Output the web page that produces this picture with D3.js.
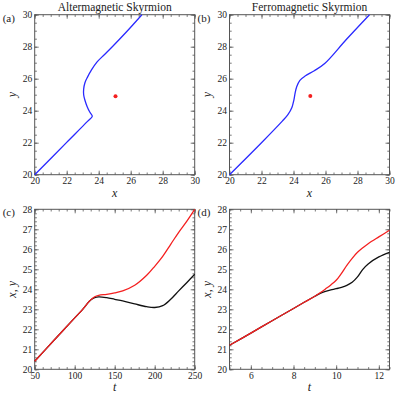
<!DOCTYPE html>
<html lang="en">
<head>
<meta charset="utf-8">
<title>Skyrmion trajectories</title>
<script src="https://d3js.org/d3.v7.min.js"></script>
<style>
  body { margin: 0; background: #fff; }
  svg text { font-family: "Liberation Serif", "DejaVu Serif", serif; fill: #222; }
</style>
</head>
<body>
<script>
// ---- data ----
var altX = [20, 22, 23.3, 23.6, 23.45, 23.28, 23.14, 23.06, 23.06, 23.14, 23.3, 23.55, 23.9, 24.35, 24.85, 25.8, 26.7];
var altY = [20, 22.02, 23.33, 23.65, 23.9, 24.25, 24.65, 25.0, 25.35, 25.75, 26.1, 26.55, 27.05, 27.5, 28.0, 29.0, 30.0];

var ferroX = [20, 22, 23.3, 23.65, 23.9, 24.02, 24.1, 24.2, 24.4, 24.75, 25.3, 25.95, 27.3, 28.75];
var ferroY = [20, 22, 23.35, 23.75, 24.2, 24.65, 25.1, 25.5, 25.9, 26.18, 26.5, 26.95, 28.45, 30];

var dotA = [25.05, 24.9];
var dotB = [25.05, 24.92];

var cT = [50, 75, 100, 110, 115, 120, 125, 130, 140, 150, 160, 175, 190, 200, 210, 220, 230, 240, 250];
var cX = [20.4, 21.49, 22.57, 23.0, 23.25, 23.47, 23.58, 23.62, 23.58, 23.5, 23.42, 23.27, 23.13, 23.09, 23.18, 23.5, 23.92, 24.33, 24.75];
var cY = [20.4, 21.49, 22.57, 23.0, 23.25, 23.47, 23.63, 23.7, 23.75, 23.82, 23.92, 24.2, 24.7, 25.15, 25.65, 26.25, 26.85, 27.4, 28.0];

var dT = [5, 6, 7, 8, 8.5, 9, 9.25, 9.5, 9.75, 10, 10.25, 10.5, 10.75, 11, 11.25, 11.5, 12, 12.5];
var dX = [21.2, 21.81, 22.43, 23.04, 23.35, 23.65, 23.8, 23.9, 23.97, 24.03, 24.1, 24.2, 24.35, 24.62, 25.0, 25.27, 25.62, 25.85];
var dY = [21.2, 21.81, 22.43, 23.04, 23.35, 23.65, 23.83, 24.02, 24.22, 24.45, 24.8, 25.2, 25.55, 25.85, 26.08, 26.28, 26.62, 26.95];

// ticks
var trajMajor = [20, 22, 24, 26, 28, 30];
var trajMinor = d3.range(20, 30.01, 0.5);
var cMajor = [50, 100, 150, 200, 250];
var cMinor = d3.range(50, 250.1, 10);
var dMajor = [6, 8, 10, 12];
var dMinor = d3.range(5, 12.51, 0.5);
var posMajor = [20, 21, 22, 23, 24, 25, 26, 27, 28];
var posMinor = d3.range(20, 28.01, 0.2);

var titles = ["Altermagnetic Skyrmion", "Ferromagnetic Skyrmion"];

// ---- layout ----
var W = 396, H = 396;
var size = 160;
var lefts = [34.7, 229.5];
var tops = [14.7, 209.3];
var SERIF = "'Liberation Serif', 'DejaVu Serif', serif";

var BLUE = "#2a2aff", RED = "#f42020", BLACK = "#111";

var svg = d3.select("body").append("svg")
  .attr("width", W).attr("height", H)
  .attr("font-family", SERIF);

function zip(a, b) { return a.map(function(v, i) { return [v, b[i]]; }); }

function panel(o) {
  var g = svg.append("g").attr("transform", "translate(" + o.left + "," + o.top + ")");
  var x = d3.scaleLinear().domain(o.xd).range([0, size]);
  var y = d3.scaleLinear().domain(o.yd).range([size, 0]);

  // minor ticks (all four sides, inward)
  g.append("g").attr("transform", "translate(0," + size + ")")
    .call(d3.axisBottom(x).tickValues(o.xMinor).tickSize(-2.2).tickFormat(""));
  g.append("g").call(d3.axisTop(x).tickValues(o.xMinor).tickSize(-2.2).tickFormat(""));
  g.append("g").call(d3.axisLeft(y).tickValues(o.yMinor).tickSize(-2.2).tickFormat(""));
  g.append("g").attr("transform", "translate(" + size + ",0)")
    .call(d3.axisRight(y).tickValues(o.yMinor).tickSize(-2.2).tickFormat(""));

  // major ticks
  g.append("g").attr("transform", "translate(0," + size + ")")
    .call(d3.axisBottom(x).tickValues(o.xMajor).tickSize(-4).tickPadding(3).tickFormat(d3.format("d")));
  g.append("g").call(d3.axisTop(x).tickValues(o.xMajor).tickSize(-4).tickFormat(""));
  g.append("g")
    .call(d3.axisLeft(y).tickValues(o.yMajor).tickSize(-4).tickPadding(2.5).tickFormat(d3.format("d")));
  g.append("g").attr("transform", "translate(" + size + ",0)")
    .call(d3.axisRight(y).tickValues(o.yMajor).tickSize(-4).tickFormat(""));

  g.selectAll("g").attr("font-family", SERIF);
  g.selectAll(".domain").remove();
  g.selectAll(".tick line").attr("stroke", "#555").attr("stroke-width", 0.8);
  g.selectAll(".tick text").attr("font-size", 9.5).attr("fill", "#222")
    .attr("font-family", SERIF);

  // frame
  g.append("rect").attr("width", size).attr("height", size)
    .attr("fill", "none").attr("stroke", "#555").attr("stroke-width", 1);

  var clip = "clip" + o.id;
  g.append("clipPath").attr("id", clip).append("rect")
    .attr("x", -1).attr("y", -1).attr("width", size + 2).attr("height", size + 2);

  var line = d3.line()
    .x(function(d) { return x(d[0]); })
    .y(function(d) { return y(d[1]); })
    .curve(d3.curveCatmullRom.alpha(0.5));

  o.series.forEach(function(s) {
    g.append("path").datum(s.pts)
      .attr("clip-path", "url(#" + clip + ")")
      .attr("d", line)
      .attr("fill", "none")
      .attr("stroke", s.color)
      .attr("stroke-width", 1.3);
  });

  if (o.dot) {
    g.append("circle").attr("cx", x(o.dot[0])).attr("cy", y(o.dot[1]))
      .attr("r", 2).attr("fill", RED);
  }

  // labels
  g.append("text").attr("x", size / 2).attr("y", size + 22)
    .attr("text-anchor", "middle").attr("font-size", 12)
    .attr("font-style", "italic").text(o.xlabel);
  g.append("text")
    .attr("transform", "translate(" + (-19) + "," + (size / 2) + ") rotate(-90)")
    .attr("text-anchor", "middle").attr("font-size", 12)
    .attr("font-style", "italic").text(o.ylabel);
  g.append("text").attr("x", -32).attr("y", 7)
    .attr("font-size", 11).text(o.tag);
  if (o.title) {
    g.append("text").attr("x", size / 2).attr("y", -4)
      .attr("text-anchor", "middle").attr("font-size", 11.5).text(o.title);
  }
}

panel({
  id: "a", left: lefts[0], top: tops[0], tag: "(a)", title: titles[0],
  xd: [20, 30], yd: [20, 30],
  xMajor: trajMajor, xMinor: trajMinor, yMajor: trajMajor, yMinor: trajMinor,
  xlabel: "x", ylabel: "y",
  series: [{ pts: zip(altX, altY), color: BLUE }], dot: dotA
});
panel({
  id: "b", left: lefts[1], top: tops[0], tag: "(b)", title: titles[1],
  xd: [20, 30], yd: [20, 30],
  xMajor: trajMajor, xMinor: trajMinor, yMajor: trajMajor, yMinor: trajMinor,
  xlabel: "x", ylabel: "y",
  series: [{ pts: zip(ferroX, ferroY), color: BLUE }], dot: dotB
});
panel({
  id: "c", left: lefts[0], top: tops[1], tag: "(c)",
  xd: [50, 250], yd: [20, 28],
  xMajor: cMajor, xMinor: cMinor, yMajor: posMajor, yMinor: posMinor,
  xlabel: "t", ylabel: "x, y",
  series: [{ pts: zip(cT, cX), color: BLACK }, { pts: zip(cT, cY), color: RED }]
});
panel({
  id: "d", left: lefts[1], top: tops[1], tag: "(d)",
  xd: [5, 12.5], yd: [20, 28],
  xMajor: dMajor, xMinor: dMinor, yMajor: posMajor, yMinor: posMinor,
  xlabel: "t", ylabel: "x, y",
  series: [{ pts: zip(dT, dX), color: BLACK }, { pts: zip(dT, dY), color: RED }]
});
</script>
</body>
</html>
